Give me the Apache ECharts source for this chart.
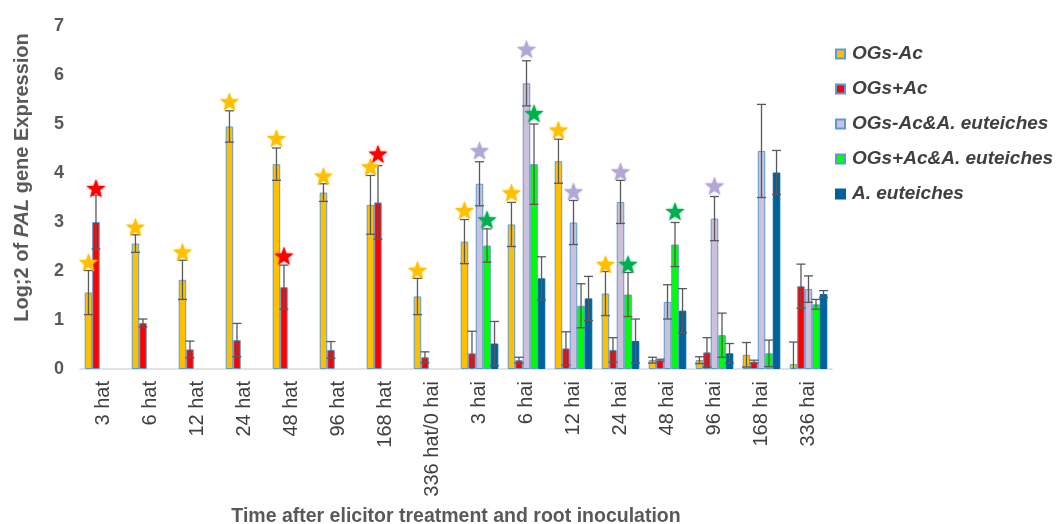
<!DOCTYPE html>
<html>
<head>
<meta charset="utf-8">
<script src="https://cdn.jsdelivr.net/npm/echarts@6/dist/echarts.min.js"></script>
<style>html,body{margin:0;padding:0;background:#fff}#c{width:1059px;height:524px}</style>
</head>
<body>
<div id="c"></div>
<script>
// ---- data ----
const categories = ['3 hat','6 hat','12 hat','24 hat','48 hat','96 hat','168 hat','336 hat/0 hai','3 hai','6 hai','12 hai','24 hai','48 hai','96 hai','168 hai','336 hai'];
const seriesNames = ['OGs-Ac','OGs+Ac','OGs-Ac&A. euteiches','OGs+Ac&A. euteiches','A. euteiches'];

const ogsMinusAc      = [1.56, 2.56, 1.82, 4.95, 4.18, 3.60, 3.35, 1.48, 2.60, 2.95, 4.24, 1.54, 0.18, 0.18, 0.29, 0.10];
const ogsMinusAcErr   = [0.45, 0.18, 0.40, 0.32, 0.33, 0.18, 0.60, 0.37, 0.45, 0.45, 0.45, 0.45, 0.06, 0.07, 0.25, 0.45];
const ogsPlusAc       = [3.00, 0.94, 0.40, 0.59, 1.67, 0.39, 3.40, 0.24, 0.32, 0.18, 0.42, 0.39, 0.18, 0.34, 0.15, 1.69];
const ogsPlusAcErr    = [0.55, 0.08, 0.17, 0.34, 0.45, 0.17, 0.75, 0.11, 0.45, 0.06, 0.34, 0.25, 0.02, 0.30, 0.03, 0.45];
const ogsMinusAcAe    = [null, null, null, null, null, null, null, null, 3.78, 5.83, 2.99, 3.41, 1.37, 3.07, 4.45, 1.63];
const ogsMinusAcAeErr = [null, null, null, null, null, null, null, null, 0.45, 0.46, 0.45, 0.44, 0.35, 0.45, 0.95, 0.27];
const ogsPlusAcAe     = [null, null, null, null, null, null, null, null, 2.52, 4.18, 1.29, 1.52, 2.54, 0.69, 0.32, 1.32];
const ogsPlusAcAeErr  = [null, null, null, null, null, null, null, null, 0.34, 0.82, 0.45, 0.45, 0.45, 0.45, 0.27, 0.10];
const aEuteiches      = [null, null, null, null, null, null, null, null, 0.52, 1.85, 1.44, 0.57, 1.19, 0.32, 4.01, 1.53];
const aEuteichesErr   = [null, null, null, null, null, null, null, null, 0.45, 0.44, 0.45, 0.45, 0.45, 0.20, 0.45, 0.07];

// significance stars (height at which each star is drawn)
const starsOgsMinusAc   = [2.18, 2.90, 2.39, 5.46, 4.71, 3.94, 4.13, 2.02, 3.24, 3.60, 4.88, 2.14, null, null, null, null];
const starsOgsPlusAc    = [3.69, null, null, null, 2.31, null, 4.39, null, null, null, null, null, null, null, null, null];
const starsOgsMinusAcAe = [null, null, null, null, null, null, null, null, 4.46, 6.53, 3.62, 4.03, null, 3.74, null, null];
const starsOgsPlusAcAe  = [null, null, null, null, null, null, null, null, 3.05, 5.22, null, 2.14, 3.22, null, null, null];
const starsAEuteiches   = [null, null, null, null, null, null, null, null, null, null, null, null, null, null, null, null];

const yTicks = [0, 1, 2, 3, 4, 5, 6, 7];

// ---- styling ----
const values = [ogsMinusAc, ogsPlusAc, ogsMinusAcAe, ogsPlusAcAe, aEuteiches];
const errors = [ogsMinusAcErr, ogsPlusAcErr, ogsMinusAcAeErr, ogsPlusAcAeErr, aEuteichesErr];
const stars  = [starsOgsMinusAc, starsOgsPlusAc, starsOgsMinusAcAe, starsOgsPlusAcAe, starsAEuteiches];
const barColors  = ['#FFC000', '#FF0000', '#CCC0DA', '#00FF00', '#00629B'];
const barBorders = ['#5B9BD5', '#5B9BD5', '#5B9BD5', '#5B9BD5', '#00629B'];
const starColors = ['#FFC000', '#FF0000', '#B4A7D6', '#00B050', '#00629B'];
const FONT = '"Liberation Sans", Arial, sans-serif';
const N = 5, CAT_GAP = 0.2;
const STAR = 'M50 0 L61.76 33.82 L97.55 34.55 L69.02 56.18 L79.39 90.45 L50 70 L20.61 90.45 L30.98 56.18 L2.45 34.55 L38.24 33.82 Z';

function barX(api, idx, gi) {
  const band = api.size([1, 0])[0];
  const bw = band * (1 - CAT_GAP) / N;
  return api.coord([idx, 0])[0] - band * (1 - CAT_GAP) / 2 + bw * (gi + 0.5);
}

function errRender(gi) {
  return function (params, api) {
    const idx = api.value(0), v = api.value(1), e = api.value(2);
    const x = barX(api, idx, gi);
    const yTop = api.coord([idx, v + e])[1];
    const low = Math.max(0, v - e);
    const yBot = api.coord([idx, low])[1];
    const st = { stroke: '#595959', lineWidth: 1.3 };
    const ch = [
      { type: 'line', shape: { x1: x, y1: yTop, x2: x, y2: yBot }, style: st },
      { type: 'line', shape: { x1: x - 4.5, y1: yTop, x2: x + 4.5, y2: yTop }, style: st }
    ];
    if (v - e > 0) ch.push({ type: 'line', shape: { x1: x - 4.5, y1: yBot, x2: x + 4.5, y2: yBot }, style: st });
    return { type: 'group', children: ch };
  };
}

function starRender(gi) {
  return function (params, api) {
    const idx = api.value(0), v = api.value(1);
    const x = barX(api, idx, gi);
    const y = api.coord([idx, v])[1];
    return {
      type: 'path',
      shape: { pathData: STAR, x: x - 9.5, y: y - 9, width: 19, height: 18 },
      style: { fill: starColors[gi], shadowBlur: 2, shadowColor: starColors[gi] }
    };
  };
}

const series = [];
seriesNames.forEach((name, gi) => {
  series.push({
    name: name, type: 'bar', data: values[gi],
    barGap: '0%', barCategoryGap: (CAT_GAP * 100) + '%',
    itemStyle: { color: barColors[gi], borderColor: barBorders[gi], borderWidth: 1 },
    z: 2
  });
});
seriesNames.forEach((name, gi) => {
  const rows = [];
  values[gi].forEach((v, i) => { if (v != null) rows.push([i, v, errors[gi][i]]); });
  series.push({ type: 'custom', renderItem: errRender(gi), data: rows, encode: { x: 0, y: 1 }, z: 5, silent: true });
  const srows = [];
  stars[gi].forEach((s, i) => { if (s != null) srows.push([i, s]); });
  if (srows.length) series.push({ type: 'custom', renderItem: starRender(gi), data: srows, encode: { x: 0, y: 1 }, z: 6, silent: true });
});

const chart = echarts.init(document.getElementById('c'), null, { renderer: 'canvas' });
chart.setOption({
  animation: false,
  backgroundColor: '#ffffff',
  grid: { left: 80, right: 227, top: 26, bottom: 155, containLabel: false, outerBoundsMode: 'none' },
  legend: {
    data: seriesNames,
    orient: 'vertical',
    left: 830, top: 39,
    itemWidth: 9, itemHeight: 9, itemGap: 15,
    icon: 'rect',
    textStyle: { fontFamily: FONT, fontSize: 19, fontWeight: 'bold', fontStyle: 'italic', color: '#404040', lineHeight: 20, padding: [0, 0, 0, 2] }
  },
  xAxis: {
    type: 'category', data: categories,
    axisLine: { lineStyle: { color: '#D9D9D9', width: 1.5 } },
    axisTick: { show: false },
    axisLabel: { rotate: 90, interval: 0, margin: 12, fontFamily: FONT, fontSize: 20, color: '#404040' },
    name: 'Time after elicitor treatment and root inoculation',
    nameLocation: 'middle', nameGap: 138,
    nameTextStyle: { fontFamily: FONT, fontSize: 19.5, fontWeight: 'bold', color: '#595959' }
  },
  yAxis: {
    type: 'value', min: yTicks[0], max: yTicks[yTicks.length - 1], interval: 1,
    axisLine: { show: false }, axisTick: { show: false }, splitLine: { show: false },
    axisLabel: { margin: 16, fontFamily: FONT, fontSize: 18, fontWeight: 'bold', color: '#595959' },
    name: 'Log;2 of {i|PAL} gene Expression',
    nameLocation: 'middle', nameGap: 48,
    nameTextStyle: {
      fontFamily: FONT, fontSize: 20, fontWeight: 'bold', color: '#595959', padding: [0, 0, 0, 40],
      rich: { i: { fontFamily: FONT, fontSize: 20, fontWeight: 'bold', fontStyle: 'italic', color: '#595959' } }
    }
  },
  series: series
});
</script>
</body>
</html>
